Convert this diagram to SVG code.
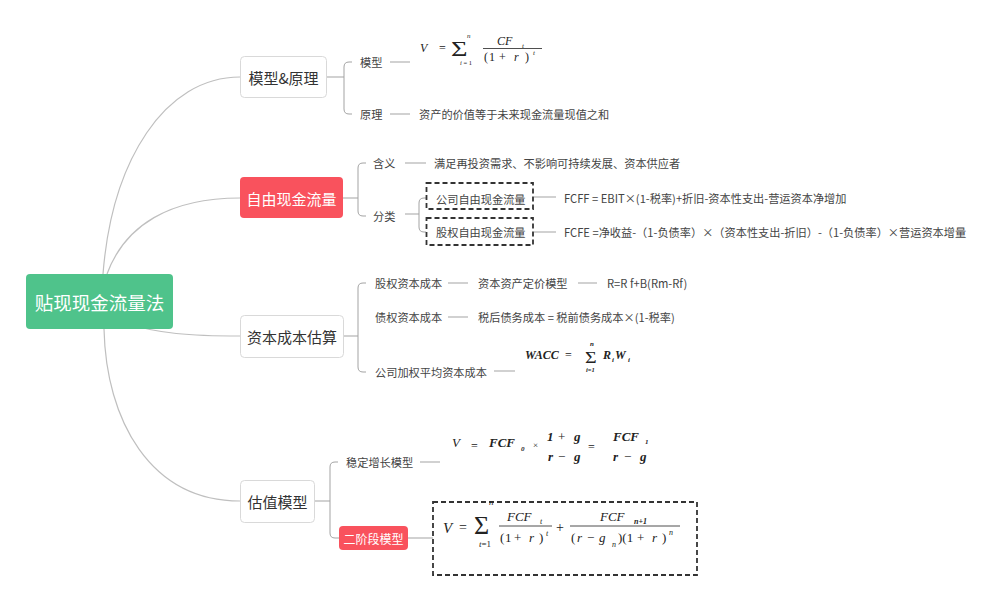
<svg xmlns="http://www.w3.org/2000/svg" width="1004" height="607" viewBox="0 0 1004 607">
<style>
.cur{fill:none;stroke:#bfbfbf;stroke-width:1.2}
.ln{fill:none;stroke:#a3a3a3;stroke-width:1}
.box{fill:#fff;stroke:#d9d9d9;stroke-width:1}
.red{fill:#f9525d}
.dash{fill:none;stroke:#333;stroke-width:1.8;stroke-dasharray:5 3}
.t1{font-family:"Noto Sans CJK SC",sans-serif;font-size:15px;fill:#333}
.tw{font-family:"Noto Sans CJK SC",sans-serif;fill:#fff}
.t2{font-family:"Noto Sans CJK SC",sans-serif;font-size:11.2px;fill:#444}
.m{font-family:"Liberation Serif",serif;font-style:italic;fill:#222}
.n{font-style:normal}
.b{font-weight:bold}
.fl{stroke:#222;stroke-width:0.8}
</style>
<rect width="1004" height="607" fill="#fff"/>

<g id="connectors">
  <path class="cur" d="M103,274 C112,160 165,77 240,77"/>
  <path class="cur" d="M107,274 C125,225 170,198 240,198"/>
  <path class="cur" d="M120,322 C160,334 190,336 240,336"/>
  <path class="cur" d="M104,329 C106,420 150,501 240,501"/>
  <path class="ln" d="M327,77 L344,77"/>
  <path class="ln" d="M352,62 L349,62 Q344,62 344,67 L344,109 Q344,114 349,114 L352,114"/>
  <path class="ln" d="M390,62 L410,62"/>
  <path class="ln" d="M390,114 L410,114"/>
  <path class="ln" d="M343,198 L358,198"/>
  <path class="ln" d="M366,163 L363,163 Q358,163 358,168 L358,211 Q358,216 363,216 L366,216"/>
  <path class="ln" d="M405,163 L426,163"/>
  <path class="ln" d="M405,214 L419,214"/>
  <path class="ln" d="M426,198 L424,198 Q419,198 419,203 L419,227 Q419,232 424,232 L426,232"/>
  <path class="ln" d="M534,197 L556,197"/>
  <path class="ln" d="M534,232 L556,232"/>
  <path class="ln" d="M344,336 L358,336"/>
  <path class="ln" d="M366,283 L363,283 Q358,283 358,288 L358,367 Q358,372 363,372 L366,372"/>
  <path class="ln" d="M448,283 L468,283"/>
  <path class="ln" d="M578,283 L597,283"/>
  <path class="ln" d="M448,317 L468,317"/>
  <path class="ln" d="M494,371 L515,371"/>
  <path class="ln" d="M315,501 L330,501"/>
  <path class="ln" d="M338,462 L335,462 Q330,462 330,467 L330,533 Q330,538 335,538 L339,538"/>
  <path class="ln" d="M420,462 L440,462"/>
  <path class="ln" d="M408,538 L433,538"/>
</g>

<g id="root">
  <rect x="26" y="274" width="147" height="55" rx="4" fill="#4fc38b"/>
  <text class="tw" x="99.5" y="302" font-size="18.5" text-anchor="middle" dominant-baseline="central">贴现现金流量法</text>
</g>

<g id="n-model">
  <rect class="box" x="240.5" y="56.5" width="86" height="41" rx="4"/>
  <text class="t1" x="283.5" y="77.5" text-anchor="middle" dominant-baseline="central">模型&amp;原理</text>
</g>
<g id="n-model-1">
  <text class="t2" x="360" y="62" dominant-baseline="central">模型</text>
</g>
<g id="n-model-f">
  <text class="m" x="420" y="52" font-size="12">V</text>
  <text class="m n" x="439" y="52" font-size="12">=</text>
  <text class="m n" font-size="21" transform="translate(451,56) scale(1.35,1)">Σ</text>
  <text class="m" x="467" y="38" font-size="7">n</text>
  <text class="m" x="460" y="65" font-size="6.5">i<tspan class="n"> = 1</tspan></text>
  <text class="m" x="497" y="45" font-size="12">CF</text>
  <text class="m" x="522" y="48" font-size="7">t</text>
  <line class="fl" x1="483" y1="48.5" x2="542" y2="48.5"/>
  <text class="m n" y="61" font-size="12"><tspan x="484">(</tspan><tspan x="489">1</tspan><tspan x="499">+</tspan><tspan x="514" font-style="italic">r</tspan><tspan x="525">)</tspan></text>
  <text class="m" x="533" y="55" font-size="7">t</text>
</g>
<g id="n-model-2">
  <text class="t2" x="360" y="114" dominant-baseline="central">原理</text>
  <text class="t2" x="419" y="114" dominant-baseline="central">资产的价值等于未来现金流量现值之和</text>
</g>

<g id="n-fcf">
  <rect class="red" x="240" y="177" width="103" height="41" rx="4"/>
  <text class="tw" x="291.5" y="198" font-size="15" text-anchor="middle" dominant-baseline="central">自由现金流量</text>
</g>
<g id="n-fcf-1">
  <text class="t2" x="373" y="163" dominant-baseline="central">含义</text>
  <text class="t2" x="434" y="163" dominant-baseline="central">满足再投资需求、不影响可持续发展、资本供应者</text>
</g>
<g id="n-fcf-2">
  <text class="t2" x="373" y="216" dominant-baseline="central">分类</text>
</g>
<g id="n-fcff">
  <rect class="dash" x="426.5" y="183" width="106.5" height="26"/>
  <text class="t2" x="436" y="198.5" dominant-baseline="central">公司自由现金流量</text>
  <text class="t2" x="564" y="198" dominant-baseline="central">FCFF  =  EBIT×(1-税率)+折旧-资本性支出-营运资本净增加</text>
</g>
<g id="n-fcfe">
  <rect class="dash" x="426.5" y="218" width="106.5" height="27"/>
  <text class="t2" x="436" y="232" dominant-baseline="central">股权自由现金流量</text>
  <text class="t2" x="564" y="232" dominant-baseline="central">FCFE =净收益-（1-负债率）×（资本性支出-折旧）-（1-负债率）×营运资本增量</text>
</g>

<g id="n-cost">
  <rect class="box" x="240.5" y="315.5" width="103" height="42" rx="4"/>
  <text class="t1" x="292" y="336.5" text-anchor="middle" dominant-baseline="central">资本成本估算</text>
</g>
<g id="n-cost-1">
  <text class="t2" x="375" y="283" dominant-baseline="central">股权资本成本</text>
  <text class="t2" x="478" y="283" dominant-baseline="central">资本资产定价模型</text>
  <text class="t2" x="607" y="283" dominant-baseline="central">R=R f+B(Rm-Rf)</text>
</g>
<g id="n-cost-2">
  <text class="t2" x="375" y="317" dominant-baseline="central">债权资本成本</text>
  <text class="t2" x="478" y="317" dominant-baseline="central">税后债务成本 = 税前债务成本×(1-税率)</text>
</g>
<g id="n-cost-3">
  <text class="t2" x="375" y="372" dominant-baseline="central">公司加权平均资本成本</text>
  <text class="m b" x="525" y="359" font-size="12">WACC</text>
  <text class="m n" x="565" y="359" font-size="12">=</text>
  <text class="m n" font-size="16" transform="translate(585,363) scale(1.25,1)">Σ</text>
  <text class="m b" x="590" y="346" font-size="7">n</text>
  <text class="m b" x="586" y="372" font-size="6.5">i<tspan class="n">=</tspan>1</text>
  <text class="m b" x="603" y="359" font-size="12">R</text>
  <text class="m b" x="612" y="362" font-size="7">i</text>
  <text class="m b" x="615" y="359" font-size="12">W</text>
  <text class="m b" x="628" y="362" font-size="7">i</text>
</g>

<g id="n-val">
  <rect class="box" x="240.5" y="480.5" width="74" height="42" rx="4"/>
  <text class="t1" x="277.5" y="501.5" text-anchor="middle" dominant-baseline="central">估值模型</text>
</g>
<g id="n-val-1">
  <text class="t2" x="346" y="462" dominant-baseline="central">稳定增长模型</text>
  <text class="m" x="452" y="447" font-size="13">V</text>
  <text class="m n" x="471" y="450" font-size="12">=</text>
  <text class="m b" x="489" y="447" font-size="13">FCF</text>
  <text class="m b" x="521" y="451" font-size="7">0</text>
  <text class="m n" x="533" y="448" font-size="9" fill="#666">×</text>
  <text class="m b" y="441" font-size="13"><tspan x="547">1</tspan><tspan x="558" class="n" font-weight="normal">+</tspan><tspan x="574">g</tspan></text>
  <text class="m b" y="461" font-size="13"><tspan x="548">r</tspan><tspan x="558" class="n" font-weight="normal">−</tspan><tspan x="574">g</tspan></text>
  <text class="m n" x="588" y="451" font-size="12">=</text>
  <text class="m b" x="613" y="441" font-size="13">FCF</text>
  <text class="m b" x="645" y="444" font-size="7">1</text>
  <text class="m b" y="461" font-size="13"><tspan x="613">r</tspan><tspan x="624" class="n" font-weight="normal">−</tspan><tspan x="640">g</tspan></text>
</g>
<g id="n-val-2">
  <rect class="red" x="339" y="526" width="69" height="24" rx="4"/>
  <text class="tw" x="373.5" y="538.5" font-size="12" text-anchor="middle" dominant-baseline="central">二阶段模型</text>
</g>
<g id="n-val-2f">
  <rect class="dash" x="433" y="502" width="264" height="73"/>
  <text class="m" x="443" y="533" font-size="15">V</text>
  <text class="m n" x="459" y="532" font-size="14">=</text>
  <text class="m n" x="474" y="534" font-size="26">Σ</text>
  <text class="m" x="489" y="505" font-size="9">n</text>
  <text class="m" x="479" y="547" font-size="9">t<tspan class="n">=1</tspan></text>
  <text class="m" x="507" y="521" font-size="13">FCF</text>
  <text class="m" x="540" y="524" font-size="8">t</text>
  <line class="fl" x1="499" y1="526" x2="552" y2="526"/>
  <text class="m n" y="542" font-size="13"><tspan x="500">(</tspan><tspan x="505">1</tspan><tspan x="514">+</tspan><tspan x="529" font-style="italic">r</tspan><tspan x="539">)</tspan></text>
  <text class="m" x="546" y="536" font-size="8">t</text>
  <text class="m n" x="556" y="532" font-size="14">+</text>
  <text class="m" x="600" y="521" font-size="13">FCF</text>
  <text class="m b" x="634" y="524" font-size="8">n+1</text>
  <line class="fl" x1="570" y1="526" x2="680" y2="526"/>
  <text class="m n" y="542" font-size="13"><tspan x="571">(</tspan><tspan x="577" font-style="italic">r</tspan><tspan x="587">−</tspan><tspan x="599" font-style="italic">g</tspan></text>
  <text class="m" x="612" y="547" font-size="8">n</text>
  <text class="m n" y="542" font-size="13"><tspan x="618">)(1</tspan><tspan x="637">+</tspan><tspan x="652" font-style="italic">r</tspan><tspan x="662">)</tspan></text>
  <text class="m" x="669" y="535" font-size="8">n</text>
</g>
</svg>
